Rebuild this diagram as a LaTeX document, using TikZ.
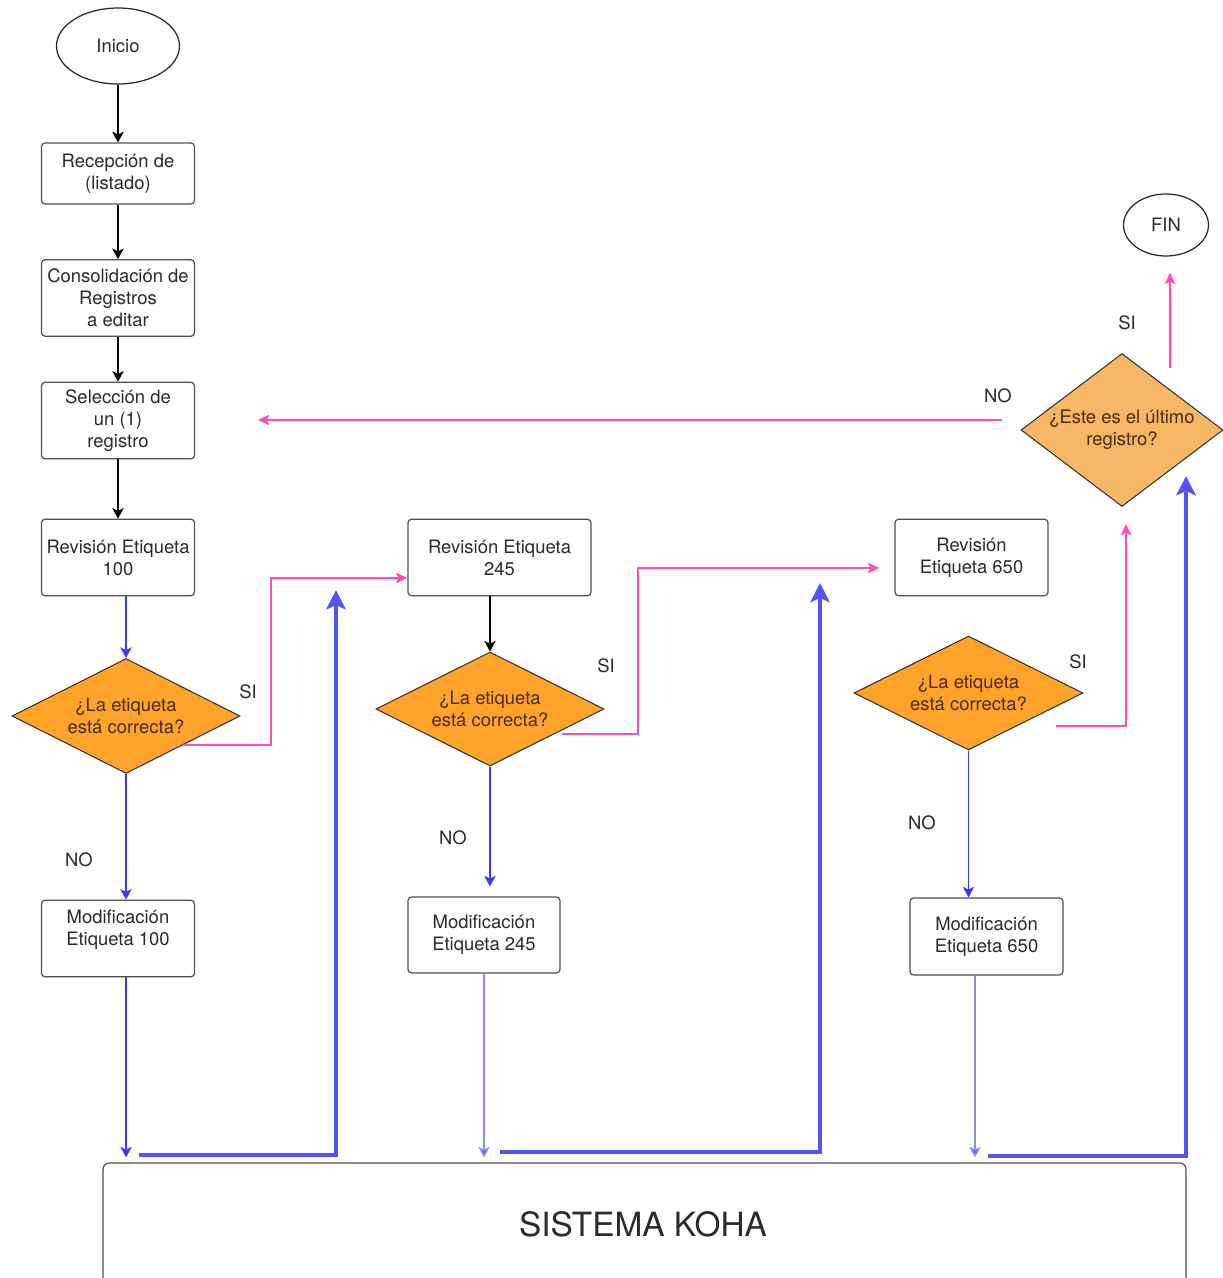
\documentclass[tikz,border=0pt]{standalone}
\usepackage{fontspec}
\setmainfont{TeX Gyre Heros}
\usepackage{tikz}
\usetikzlibrary{arrows.meta,shapes}
\usetikzlibrary{positioning}
\usetikzlibrary{calc}
\definecolor{boxgray}{HTML}{505050}
\definecolor{txtgray}{HTML}{2A2A2A}
\definecolor{decorange}{HTML}{FFA32B}
\definecolor{lastorange}{HTML}{F8B764}
\definecolor{decbrown}{HTML}{4A2C0C}
\definecolor{flowpink}{HTML}{FF4DB2}
\definecolor{flowblue}{HTML}{3A3AFF}
\definecolor{paleblue}{HTML}{8C8CFF}
\definecolor{thickblue}{HTML}{5454F4}
\newcommand{\flowfont}{\fontsize{10.5}{12.5}\selectfont}
\tikzset{
    procbox/.style={draw=boxgray, line width=0.7pt, rounded corners=0.7mm, fill=white,
        text=txtgray, align=center, inner sep=0pt, font=\flowfont, minimum width=3.06cm},
    decision/.style={diamond, draw=black!80, line width=0.6pt, fill=decorange, text=decbrown,
        align=center, inner sep=-8pt, aspect=2, font=\flowfont,
        minimum width=4.56cm, minimum height=2.3cm},
    terminal/.style={ellipse, draw=black!85, line width=0.7pt, text=txtgray, font=\flowfont, inner sep=0pt},
    flowlabel/.style={text=txtgray, font=\flowfont},
    blkarrow/.style={draw=black, line width=0.8pt, -{Stealth[length=6pt,width=6.5pt,inset=1.5pt]}},
    bluearrow/.style={draw=flowblue, line width=0.8pt, -{Stealth[length=6pt,width=6.5pt,inset=1.5pt]}},
    palearrow/.style={draw=paleblue, line width=0.8pt, -{Stealth[length=6pt,width=6.5pt,inset=1.5pt,fill=flowblue!80]}},
    pinkarrow/.style={draw=flowpink, line width=0.8pt, -{Stealth[length=6.5pt,width=6pt,inset=1.5pt]}},
    returnline/.style={draw=thickblue, line width=2.2pt, -{Stealth[length=11pt,width=11pt,inset=2.5pt]}},
}

\begin{document}
\begin{tikzpicture}[x=0.02cm, y=-0.02cm]
\useasboundingbox (0,0) rectangle (1223,1278);
\clip (0,0) rectangle (1223,1278);
% main column
\node[terminal, minimum width=2.46cm, minimum height=1.52cm] (inicio) at (118,46) {Inicio};
\node[procbox, minimum height=1.22cm] (recep) at (118,173.5) {Recepción de\\(listado)};
\node[procbox, minimum height=1.53cm] (consol) at (118,298) {Consolidación de\\Registros\\a editar};
\node[procbox, minimum height=1.53cm] (selec) at (118,420.5) {Selección de\\un (1)\\registro};
\node[procbox, minimum height=1.53cm] (rev100) at (118,557.5) {Revisión Etiqueta\\100};
\node[decision] (d100) at (126,716) {¿La etiqueta\\está correcta?};
\node[procbox, minimum height=1.53cm] (mod100) at (118,938.5) {Modificación\\Etiqueta 100\\\mbox{}};
%
\node[procbox, minimum width=3.66cm, minimum height=1.53cm] (rev245) at (499.5,557.5) {Revisión Etiqueta\\245};
\node[decision, minimum height=2.28cm] (d245) at (490,709) {¿La etiqueta\\está correcta?};
\node[procbox, minimum width=3.04cm, minimum height=1.52cm] (mod245) at (484,935) {Modificación\\Etiqueta 245};
%
\node[procbox, minimum height=1.53cm] (rev650) at (971.5,557.5) {Revisión\\Etiqueta 650};
\node[decision, minimum width=4.58cm, minimum height=2.28cm] (d650) at (968.5,693) {¿La etiqueta\\está correcta?};
\node[procbox, minimum height=1.54cm] (mod650) at (986.5,936.5) {Modificación\\Etiqueta 650};
%
\node[decision, fill=lastorange, aspect=1.3, minimum width=4.04cm, minimum height=3.06cm] (dlast) at (1122,430) {¿Este es el último\\registro?};
\node[terminal, minimum width=1.7cm, minimum height=1.24cm] (fin) at (1166,225) {FIN};
%
\node[procbox, minimum width=21.66cm, minimum height=3.1cm, rounded corners=1.2mm] (koha) at (644.5,1240.5) {};
\node[text=txtgray, font=\fontsize{19}{22}\selectfont] (kohatxt) at (643,1224) {SISTEMA KOHA};

% black flow
\draw[blkarrow] (inicio.south) -- (recep.north);
\draw[blkarrow] (recep.south) -- (consol.north);
\draw[blkarrow] (consol.south) -- (selec.north);
\draw[blkarrow] (selec.south) -- (rev100.north);
\draw[blkarrow] (d245.north |- rev245.south) -- (d245.north);

% blue flow
\draw[bluearrow] (d100.north |- rev100.south) -- (d100.north);
\draw[bluearrow] (d100.south) -- (d100.south |- mod100.north);
\draw[bluearrow, shorten >=0.1cm] (d100.south |- mod100.south) -- (d100.south |- koha.north);
\draw[bluearrow, shorten >=0.2cm] (d245.south) -- (d245.south |- mod245.north);
\draw[palearrow, shorten >=0.1cm] (mod245.south) -- (mod245.south |- koha.north);
\draw[bluearrow] (d650.south) -- (d650.south |- mod650.north);
\coordinate (m650out) at ([xshift=-0.23cm]mod650.south);
\draw[palearrow, shorten >=0.1cm] (m650out) -- (m650out |- koha.north);

% back to the flow
\coordinate (back1) at (139,1155);
\coordinate (up1) at (336,590);
\draw[returnline] (back1) -| (up1);
\coordinate (back2) at (500,1152);
\coordinate (up2) at (820,583);
\draw[returnline] (back2) -| (up2);
\coordinate (back3) at (988,1156);
\coordinate (up3) at (1186,476);
\draw[returnline] (back3) -| (up3);

% pink flow
\coordinate (si100) at (271,578);
\draw[pinkarrow] (d100.south east) -| (si100) -- (si100 -| rev245.west);
\coordinate (si245a) at (562,734);
\coordinate (si245b) at (638,568);
\draw[pinkarrow, shorten >=0.3cm] (si245a) -| (si245b) -- (si245b -| rev650.west);
\coordinate (si650) at (1056,726);
\draw[pinkarrow, shorten >=0.34cm] (si650) -| ([xshift=0.08cm]dlast.south);
\coordinate (nolast) at (1002,420);
\coordinate (noend) at (258,420);
\draw[pinkarrow] (nolast) -- (noend);
\coordinate (silast) at (1170,368);
\draw[pinkarrow, shorten >=0.32cm] (silast) -- (silast |- fin.south);

% labels
\node[flowlabel] (lsi100) at (248,692) {SI};
\node[flowlabel] (lno100) at (79,860) {NO};
\node[flowlabel] (lsi245) at (606,666) {SI};
\node[flowlabel] (lno245) at (453,838) {NO};
\node[flowlabel] (lsi650) at (1078,662) {SI};
\node[flowlabel] (lno650) at (922,823) {NO};
\node[flowlabel] (lsilast) at (1127,323) {SI};
\node[flowlabel] (lnolast) at (998,396) {NO};
\end{tikzpicture}
\end{document}
